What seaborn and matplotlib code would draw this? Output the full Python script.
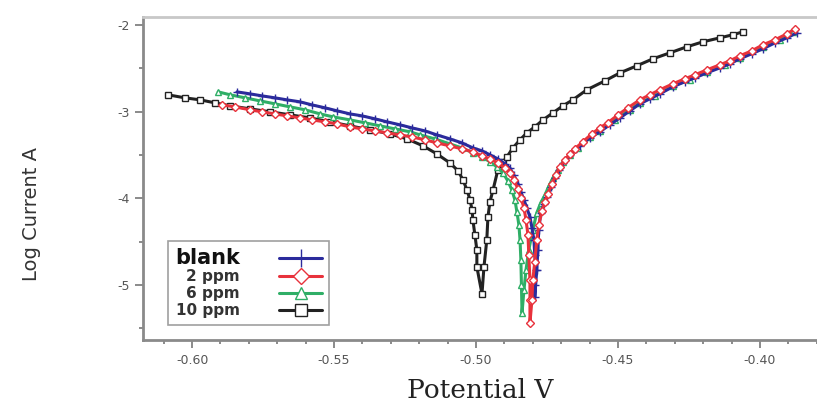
#%% libraries
import numpy as np
import pandas as pd
import seaborn as sns
import matplotlib
matplotlib.use("Agg")
import matplotlib.pyplot as plt
from matplotlib.ticker import MultipleLocator

#%% data (potential V, log current A)
blank_E = [-0.5842, -0.5796, -0.5754, -0.5708, -0.5666, -0.5620, -0.5578, -0.5532,
           -0.5489, -0.5444, -0.5401, -0.5356, -0.5313, -0.5268, -0.5226, -0.5180,
           -0.5138, -0.5092, -0.5050, -0.5011, -0.4979, -0.4951, -0.4923, -0.4898,
           -0.4881, -0.4867, -0.4852, -0.4842, -0.4831, -0.4821, -0.4810, -0.4803,
           -0.4796, -0.4793, -0.4789, -0.4793, -0.4793,
           -0.4786, -0.4782, -0.4779, -0.4772, -0.4761, -0.4750, -0.4736, -0.4722,
           -0.4708, -0.4694, -0.4676, -0.4659, -0.4634, -0.4599, -0.4564, -0.4529,
           -0.4493, -0.4458, -0.4423, -0.4388, -0.4353, -0.4307, -0.4265, -0.4229,
           -0.4187, -0.4141, -0.4106, -0.4071, -0.4029, -0.3990, -0.3947, -0.3905,
           -0.3870]
blank_logI = [-2.773, -2.796, -2.819, -2.842, -2.865, -2.888, -2.923, -2.957,
              -2.992, -3.027, -3.050, -3.084, -3.119, -3.153, -3.188, -3.223,
              -3.269, -3.315, -3.361, -3.419, -3.453, -3.499, -3.546, -3.603,
              -3.649, -3.730, -3.834, -3.926, -4.018, -4.111, -4.215, -4.341,
              -4.480, -4.653, -4.826, -5.000, -5.137,
              -4.826, -4.595, -4.364, -4.168, -4.065, -3.984, -3.869, -3.765,
              -3.672, -3.592, -3.522, -3.465, -3.396, -3.303, -3.234, -3.153,
              -3.073, -2.992, -2.911, -2.854, -2.796, -2.715, -2.657, -2.611,
              -2.554, -2.496, -2.450, -2.392, -2.334, -2.277, -2.208, -2.150,
              -2.092]

ppm2_E = [-0.5894, -0.5849, -0.5796, -0.5754, -0.5708, -0.5666, -0.5620, -0.5578,
          -0.5532, -0.5489, -0.5444, -0.5401, -0.5356, -0.5313, -0.5268, -0.5226,
          -0.5180, -0.5138, -0.5092, -0.5050, -0.5011, -0.4979, -0.4951, -0.4923,
          -0.4898, -0.4881, -0.4867, -0.4852, -0.4842, -0.4831, -0.4824, -0.4817,
          -0.4814, -0.4810, -0.4810, -0.4810,
          -0.4803, -0.4800, -0.4793, -0.4786, -0.4779, -0.4768, -0.4757, -0.4747,
          -0.4733, -0.4719, -0.4705, -0.4687, -0.4669, -0.4652, -0.4624, -0.4592,
          -0.4564, -0.4536, -0.4500, -0.4465, -0.4423, -0.4388, -0.4353, -0.4307,
          -0.4265, -0.4229, -0.4187, -0.4141, -0.4106, -0.4071, -0.4029, -0.3990,
          -0.3947, -0.3905, -0.3877]
ppm2_logI = [-2.923, -2.946, -2.980, -3.003, -3.027, -3.050, -3.073, -3.096,
             -3.119, -3.142, -3.177, -3.200, -3.223, -3.246, -3.269, -3.292,
             -3.326, -3.361, -3.396, -3.430, -3.465, -3.511, -3.546, -3.592,
             -3.649, -3.707, -3.788, -3.892, -3.995, -4.111, -4.249, -4.422,
             -4.653, -4.941, -5.172, -5.437,
             -5.172, -4.941, -4.734, -4.480, -4.307, -4.145, -4.042, -3.949,
             -3.834, -3.730, -3.638, -3.557, -3.488, -3.430, -3.349, -3.257,
             -3.188, -3.130, -3.038, -2.957, -2.865, -2.807, -2.750, -2.681,
             -2.623, -2.577, -2.519, -2.461, -2.415, -2.358, -2.300, -2.231,
             -2.173, -2.104, -2.046]

ppm6_E = [-0.5908, -0.5866, -0.5813, -0.5761, -0.5708, -0.5655, -0.5602, -0.5549,
          -0.5504, -0.5444, -0.5391, -0.5338, -0.5285, -0.5232, -0.5197, -0.5145,
          -0.5092, -0.5050, -0.5011, -0.4979, -0.4951, -0.4926, -0.4905, -0.4888,
          -0.4874, -0.4863, -0.4856, -0.4849, -0.4845, -0.4842, -0.4840, -0.4838,
          -0.4831, -0.4824, -0.4814, -0.4800, -0.4786, -0.4772, -0.4757, -0.4743,
          -0.4729, -0.4712, -0.4694, -0.4669, -0.4641, -0.4599, -0.4564, -0.4511,
          -0.4458, -0.4423, -0.4370, -0.4307, -0.4247, -0.4187, -0.4124, -0.4071,
          -0.3990, -0.3930, -0.3884]
ppm6_logI = [-2.773, -2.807, -2.842, -2.877, -2.911, -2.946, -2.980, -3.027,
             -3.061, -3.096, -3.130, -3.165, -3.200, -3.234, -3.269, -3.315,
             -3.373, -3.419, -3.476, -3.522, -3.580, -3.638, -3.707, -3.799,
             -3.903, -4.018, -4.157, -4.307, -4.480, -4.711, -5.000, -5.322,
             -5.056, -4.826, -4.595, -4.364, -4.168, -4.053, -3.961, -3.857,
             -3.765, -3.672, -3.580, -3.499, -3.419, -3.292, -3.223, -3.096,
             -2.980, -2.900, -2.819, -2.704, -2.634, -2.542, -2.461, -2.381,
             -2.254, -2.173, -2.081]

ppm10_E = [-0.6085, -0.6025, -0.5972, -0.5919, -0.5866, -0.5796, -0.5725, -0.5655,
           -0.5585, -0.5514, -0.5444, -0.5373, -0.5303, -0.5243, -0.5187, -0.5138,
           -0.5092, -0.5063, -0.5046, -0.5032, -0.5021, -0.5014, -0.5011, -0.5004,
           -0.4997, -0.4997, -0.4979,
           -0.4972, -0.4962, -0.4958, -0.4951, -0.4940, -0.4923, -0.4905, -0.4891,
           -0.4870, -0.4845, -0.4821, -0.4793, -0.4764, -0.4729, -0.4694, -0.4659,
           -0.4610, -0.4546, -0.4493, -0.4434, -0.4377, -0.4317, -0.4258, -0.4201,
           -0.4141, -0.4096, -0.4060]
ppm10_logI = [-2.807, -2.842, -2.865, -2.900, -2.934, -2.969, -3.003, -3.038,
              -3.073, -3.119, -3.165, -3.211, -3.257, -3.315, -3.395, -3.488,
              -3.592, -3.684, -3.788, -3.903, -4.018, -4.134, -4.249, -4.422,
              -4.595, -4.791, -5.103,
              -4.791, -4.480, -4.215, -4.042, -3.903, -3.672, -3.580, -3.522,
              -3.419, -3.326, -3.246, -3.177, -3.096, -3.015, -2.934, -2.865,
              -2.750, -2.646, -2.554, -2.473, -2.392, -2.323, -2.254, -2.196,
              -2.150, -2.115, -2.081]

labels = ['blank', '2 ppm', '6 ppm', '10 ppm']
x_ticks = [-0.60, -0.55, -0.50, -0.45, -0.40]
y_ticks = [-2, -3, -4, -5]

#%% styling per curve
series = {
    'blank': (blank_E, blank_logI, '#2b2b9c', '+'),
    '2 ppm': (ppm2_E, ppm2_logI, '#e8323c', 'D'),
    '6 ppm': (ppm6_E, ppm6_logI, '#2fae66', '^'),
    '10 ppm': (ppm10_E, ppm10_logI, '#222222', 's'),
}
draw_order = ['10 ppm', '6 ppm', 'blank', '2 ppm']

sns.set_theme(style="ticks")
plt.rcParams['font.family'] = ['DejaVu Sans']

fig = plt.figure(figsize=(8.17, 4.11), dpi=100)
ax = fig.add_axes([0.175, 0.173, 0.825, 0.786])

lines = {}
for name in draw_order:
    E, logI, col, mk = series[name]
    d = pd.DataFrame({'E': E, 'logI': logI})
    ms = 6 if mk == '+' else 3.8
    sns.lineplot(data=d, x='E', y='logI', sort=False, ax=ax, color=col,
                 lw=2.2, marker=mk, markersize=ms,
                 markerfacecolor='white' if mk != '+' else col,
                 markeredgecolor=col, markeredgewidth=1.0, estimator=None)
    lines[name] = ax.get_lines()[-1]

ax.set_xlim(-0.6173, -0.3799)
ax.set_ylim(-5.633, -1.908)
ax.set_xticks(x_ticks)
ax.set_xticklabels(['-0.60', '-0.55', '-0.50', '-0.45', '-0.40'])
ax.set_yticks(y_ticks)
ax.set_yticklabels(['-2', '-3', '-4', '-5'])
ax.xaxis.set_minor_locator(MultipleLocator(0.01))
ax.yaxis.set_minor_locator(MultipleLocator(0.5))
ax.tick_params(which='both', direction='out', colors='#777777', labelsize=9,
               width=1.2)
ax.tick_params(which='major', length=6, labelcolor='#555555')
ax.tick_params(which='minor', length=3)
ax.tick_params(axis='x', pad=4)

for s in ['left', 'bottom']:
    ax.spines[s].set_color('#8a8a8a')
    ax.spines[s].set_linewidth(2)
ax.spines['top'].set_color('#c8c8c8')
ax.spines['top'].set_linewidth(2)
ax.spines['right'].set_visible(False)

ax.set_xlabel('Potential V', family=['DejaVu Serif'], fontsize=19, color='#222222',
              labelpad=8)
ax.set_ylabel('Log Current A', family=['Liberation Sans Narrow', 'DejaVu Sans'],
              fontsize=14, color='#333333')
ax.yaxis.set_label_coords(-0.152, 0.39)

leg = ax.legend([lines[n] for n in labels], labels, loc='lower left',
                bbox_to_anchor=(0.037, 0.046), markerfirst=False, frameon=True,
                fancybox=False, edgecolor='#888888',
                handlelength=2.8, handletextpad=2.6, labelspacing=0.12,
                borderpad=0.45, borderaxespad=0.0, markerscale=2.2,
                prop={'weight': 'bold', 'size': 11})
leg.get_frame().set_linewidth(1.2)
for t in leg.get_texts():
    t.set_color('#333333')
leg.get_texts()[0].set_fontsize(15)
leg.get_texts()[0].set_color('#111111')

fig.savefig('out.png', dpi=100)
